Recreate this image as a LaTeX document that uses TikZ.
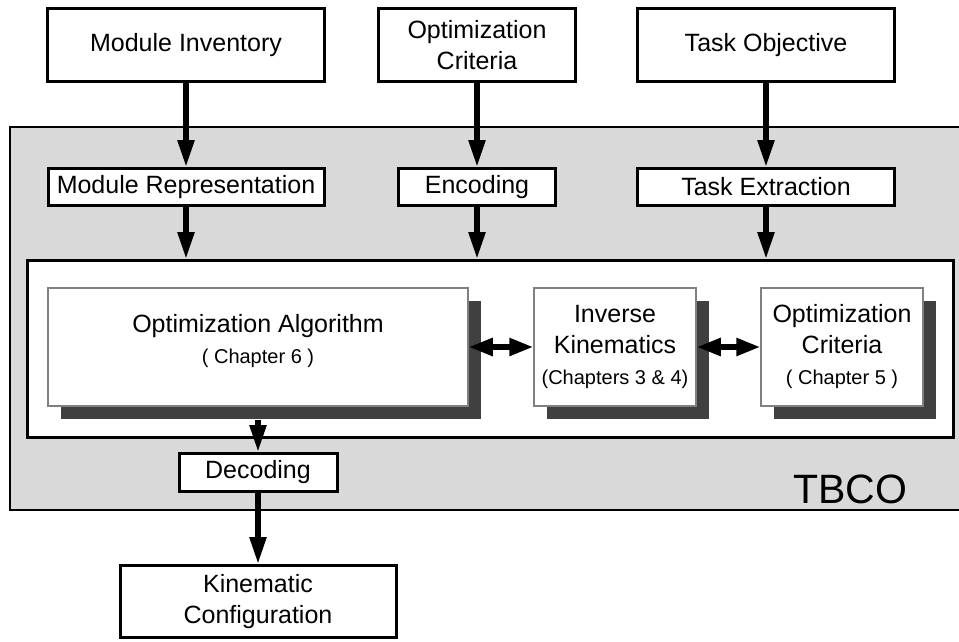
\documentclass[tikz,border=0pt]{standalone}
\usepackage{fontspec}
\setmainfont{Liberation Sans}
\usetikzlibrary{arrows.meta,positioning,shadows}

\definecolor{panelgray}{HTML}{D9D9D9}
\definecolor{shadegray}{HTML}{404040}
\definecolor{rimgray}{HTML}{808080}

\newcommand{\chapnote}[1]{{\fontsize{20}{31}\selectfont #1}}

\begin{document}
\begin{tikzpicture}[x=1pt,y=-1pt,on grid,
    font=\fontsize{25}{31}\selectfont,
    block/.style={draw,line width=3pt,fill=white,inner sep=0pt,align=center},
    stage/.style={draw=rimgray,line width=1.5pt,fill=white,inner sep=0pt,align=center,
      minimum height=118pt,
      drop shadow={shadow xshift=13pt,shadow yshift=-13pt,fill=shadegray,opacity=1}},
    feed/.style={line width=5.5pt,-{Triangle[length=27pt,width=16pt]}},
    exchange/.style={line width=5.5pt,{Triangle[length=24pt,width=17pt]}-{Triangle[length=24pt,width=17pt]}}]
   \useasboundingbox (0,0) rectangle (959,641);

   % TBCO frame with the core loop inside
   \draw[fill=panelgray,line width=2pt] (10,127) rectangle (975,510);
   \node[anchor=base,font=\fontsize{41}{41}\selectfont] (tbco) at (850.5,503) {TBCO};
   \node[draw,line width=3pt,fill=white,minimum width=926pt,minimum height=177pt] (core) at (490.5,349) {};

   % inputs
   \node[block,minimum width=277pt,minimum height=73pt] (modinv) at (186,45) {Module Inventory};
   \node[block,minimum width=197pt,minimum height=73pt] (optcrit) at (477,45) {Optimization\\Criteria};
   \node[block,minimum width=257pt,minimum height=73pt] (taskobj) at (766,45) {Task Objective};

   \node[block,minimum width=276pt,minimum height=37pt] (modrep) [below=142pt of modinv] {Module Representation};
   \node[block,minimum width=157pt,minimum height=37pt] (enc) [below=142pt of optcrit] {Encoding};
   \node[block,minimum width=257pt,minimum height=37pt] (taskext) [below=142pt of taskobj] {Task Extraction};

   % core loop
   \node[stage,minimum width=420pt,text depth=17pt] (opt) at (258,347) {Optimization Algorithm\\\chapnote{( Chapter 6 )}};
   \node[stage,minimum width=162pt] (ik) [right=357pt of opt] {Inverse\\Kinematics\\\chapnote{(Chapters 3 \& 4)}};
   \node[stage,minimum width=162pt] (oc) [right=227pt of ik] {Optimization\\Criteria\\\chapnote{( Chapter 5 )}};

   % output
   \node[block,minimum width=158pt,minimum height=38pt] (dec) at (258,472.5) {Decoding};
   \node[block,minimum width=276pt,minimum height=72pt] (kin) [below=129pt of dec] {Kinematic\\Configuration};

    \path[feed]
    (modinv) edge (modrep)
    (optcrit) edge (enc)
    (taskobj) edge (taskext)
    (modrep) edge (modrep |- core.north)
    (enc) edge (enc |- core.north)
    (taskext) edge (taskext |- core.north)
    (opt) edge [shorten <=13pt] (dec)
    (dec) edge (kin);
    \path[exchange]
    (opt) edge (ik)
    (ik) edge (oc);
\end{tikzpicture}
\end{document}
